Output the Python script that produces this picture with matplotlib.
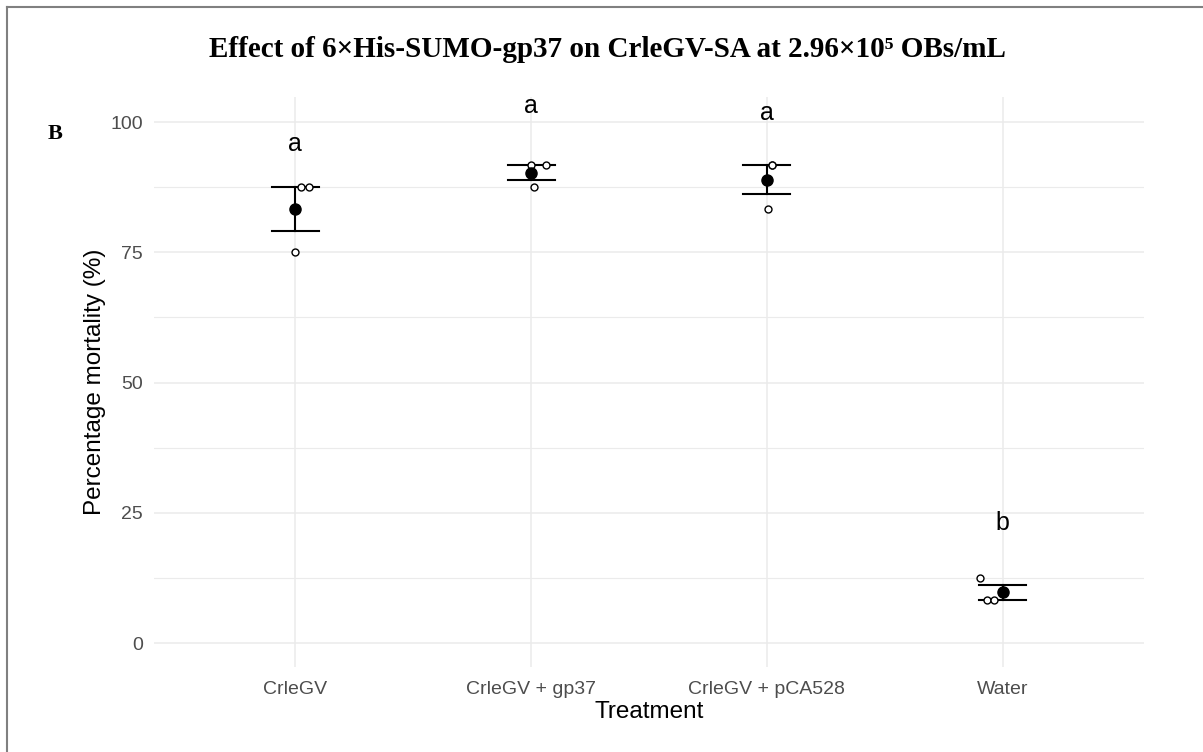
import numpy as np
import matplotlib
matplotlib.use('Agg')
from matplotlib import pyplot as plt

# data
treatments = ['CrleGV', 'CrleGV + gp37', 'CrleGV + pCA528', 'Water']
reps = [[87.5, 87.5, 75.0],
        [91.67, 91.67, 87.5],
        [91.67, 91.67, 83.33],
        [12.5, 8.33, 8.33]]
jitter = [[0.025, 0.056, 0.0],
          [0.0, 0.064, 0.013],
          [0.021, 0.021, 0.006],
          [-0.096, -0.065, -0.037]]
letters = ['a', 'a', 'a', 'b']
letter_y = [95.8, 103.0, 101.8, 23.0]

means = [np.mean(r) for r in reps]
ses = [np.std(r, ddof=1) / np.sqrt(len(r)) for r in reps]

fig = plt.figure(figsize=(12.03, 7.52), dpi=100)
ax = fig.add_axes([0.128, 0.113, 0.823, 0.758])

x = np.arange(1, len(treatments) + 1)

# gridlines (theme_minimal look)
for yy in [0, 25, 50, 75, 100]:
    ax.axhline(yy, color='#EBEBEB', lw=1.1, zorder=0)
for yy in [12.5, 37.5, 62.5, 87.5]:
    ax.axhline(yy, color='#EBEBEB', lw=0.8, zorder=0)
for xx in x:
    ax.axvline(xx, color='#EBEBEB', lw=1.1, zorder=0)

# error bars (mean +/- SE)
for i in range(len(x)):
    lo, hi = means[i] - ses[i], means[i] + ses[i]
    ax.plot([x[i], x[i]], [lo, hi], color='black', lw=1.5, zorder=2)
    ax.plot([x[i] - 0.1, x[i] + 0.1], [lo, lo], color='black', lw=1.5, zorder=2)
    ax.plot([x[i] - 0.1, x[i] + 0.1], [hi, hi], color='black', lw=1.5, zorder=2)

# individual replicates
for i in range(len(x)):
    ax.plot(x[i] + np.array(jitter[i]), reps[i], 'o', mfc='white', mec='black',
            ms=5, mew=1.0, zorder=3, ls='none')

# means
ax.plot(x, means, 'o', color='black', ms=8, zorder=4, ls='none')

# significance letters
for i in range(len(x)):
    ax.text(x[i], letter_y[i], letters[i], ha='center', va='center',
            fontsize=18, color='black', family='Liberation Sans')

ax.set_xlim(0.4, 4.6)
ax.set_ylim(-4.6, 104.8)
ax.set_xticks(x)
ax.set_xticklabels(treatments)
ax.set_yticks([0, 25, 50, 75, 100])
for lab in ax.get_xticklabels() + ax.get_yticklabels():
    lab.set_family('Liberation Sans')
    lab.set_fontsize(14)
    lab.set_color('#4D4D4D')
ax.tick_params(axis='y', length=0, pad=8)
ax.tick_params(axis='x', length=0, pad=10)
for s in ax.spines.values():
    s.set_visible(False)

ax.set_xlabel('Treatment', fontsize=17.5, family='Liberation Sans', labelpad=2)
ax.set_ylabel('Percentage mortality (%)', fontsize=17.5, family='Liberation Sans', labelpad=3)

fig.text(0.505, 0.934, 'Effect of 6×His-SUMO-gp37 on CrleGV-SA at 2.96×10⁵ OBs/mL',
         ha='center', va='center', fontsize=21, fontweight='bold',
         family=['Liberation Serif', 'DejaVu Serif'])
fig.text(0.046, 0.822, 'B', ha='center', va='center', fontsize=16, fontweight='bold',
         family='Liberation Serif')

# frame lines on the left and top
fig.add_artist(plt.Line2D([0.006, 0.006], [0, 0.991], color='#808080', lw=1.5))
fig.add_artist(plt.Line2D([0.006, 1.0], [0.991, 0.991], color='#808080', lw=1.5))

plt.savefig('out.png', dpi=100)
